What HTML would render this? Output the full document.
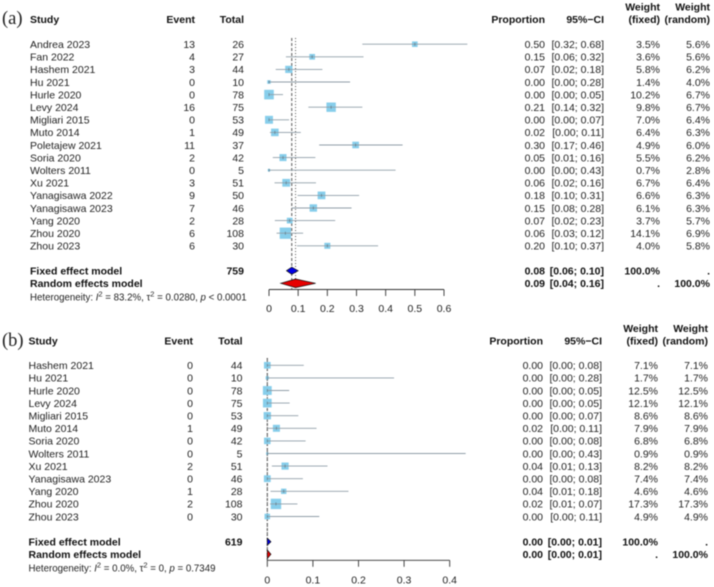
<!DOCTYPE html>
<html>
<head>
<meta charset="utf-8">
<title>Forest plots</title>
<style>
html,body{margin:0;padding:0;background:#fff;}
svg{display:block;font-family:"Liberation Sans",Arial,sans-serif;filter:blur(0.4px);}
text{fill:#1f1f1f;font-size:10.5px;}
.b{font-weight:bold;fill:#111;}
.e{text-anchor:end;}
.m{text-anchor:middle;}
.tag{font-family:"Liberation Serif",serif;font-size:18.5px;fill:#222;}
.h{font-size:9.7px;}
</style>
</head>
<body>
<svg id="chart" xmlns="http://www.w3.org/2000/svg" width="714" height="587" viewBox="0 0 714 587">
  <rect width="714" height="587" fill="#fff"/>
  <text class="tag" x="2" y="24">(a)</text>
  <text class="b" x="30" y="23">Study</text>
  <text class="b e" x="195" y="23">Event</text>
  <text class="b e" x="244" y="23">Total</text>
  <text class="b e" x="545" y="23">Proportion</text>
  <text class="b e" x="604" y="23">95%−CI</text>
  <text class="b e" x="660" y="10.5">Weight</text>
  <text class="b e" x="660" y="23">(fixed)</text>
  <text class="b e" x="710" y="10.5">Weight</text>
  <text class="b e" x="710" y="23">(random)</text>
  <text class="b" x="30" y="274.5">Fixed effect model</text>
  <text class="b e" x="244" y="274.5">759</text>
  <text class="b" x="30" y="287">Random effects model</text>
  <text class="h" x="30" y="300.5">Heterogeneity: <tspan font-style="italic">I</tspan><tspan dy="-4" font-size="7.5">2</tspan><tspan dy="4"> = 83.2%,  τ</tspan><tspan dy="-4" font-size="7.5">2</tspan><tspan dy="4"> = 0.0280, </tspan><tspan font-style="italic">p</tspan> &lt; 0.0001</text>

  <text class="tag" x="2" y="346">(b)</text>
  <text class="b" x="28.5" y="344.5">Study</text>
  <text class="b e" x="193" y="344.5">Event</text>
  <text class="b e" x="242.5" y="344.5">Total</text>
  <text class="b e" x="543" y="344.5">Proportion</text>
  <text class="b e" x="602" y="344.5">95%−CI</text>
  <text class="b e" x="658" y="332">Weight</text>
  <text class="b e" x="658" y="344.5">(fixed)</text>
  <text class="b e" x="708" y="332">Weight</text>
  <text class="b e" x="708" y="344.5">(random)</text>
  <text class="b" x="28.5" y="545.5">Fixed effect model</text>
  <text class="b e" x="242.5" y="545.5">619</text>
  <text class="b" x="28.5" y="558">Random effects model</text>
  <text class="h" x="28.5" y="571.5">Heterogeneity: <tspan font-style="italic">I</tspan><tspan dy="-4" font-size="7.5">2</tspan><tspan dy="4"> = 0.0%,  τ</tspan><tspan dy="-4" font-size="7.5">2</tspan><tspan dy="4"> = 0, </tspan><tspan font-style="italic">p</tspan> = 0.7349</text>
</svg>
<script>
// Panel (a) data
var studiesA = ['Andrea 2023','Fan 2022','Hashem 2021','Hu 2021','Hurle 2020','Levy 2024','Migliari 2015','Muto 2014','Poletajew 2021','Soria 2020','Wolters 2011','Xu 2021','Yanagisawa 2022','Yanagisawa 2023','Yang 2020','Zhou 2020','Zhou 2023'];
var eventsA = [13,4,3,0,0,16,0,1,11,2,0,3,9,7,2,6,6];
var totalsA = [26,27,44,10,78,75,53,49,37,42,5,51,50,46,28,108,30];
var propA = [0.500,0.148,0.068,0,0,0.213,0,0.020,0.297,0.048,0,0.059,0.180,0.152,0.071,0.056,0.200];
var lowerA = [0.320,0.058,0.023,0,0,0.135,0,0.003,0.172,0.013,0,0.019,0.098,0.078,0.020,0.026,0.096];
var upperA = [0.680,0.324,0.183,0.278,0.048,0.320,0.069,0.109,0.458,0.159,0.434,0.161,0.309,0.283,0.227,0.117,0.374];
var weightFixedA = [3.5,3.6,5.8,1.4,10.2,9.8,7.0,6.4,4.9,5.5,0.7,6.7,6.6,6.1,3.7,14.1,4.0];
var weightRandomA = [5.6,5.6,6.2,4.0,6.7,6.7,6.4,6.3,6.0,6.2,2.8,6.4,6.3,6.3,5.7,6.9,5.8];
var fixedSummaryA = [0.078,0.060,0.100];
var randomSummaryA = [0.091,0.040,0.160];
var ticksA = ['0','0.1','0.2','0.3','0.4','0.5','0.6'];

// Panel (b) data
var studiesB = ['Hashem 2021','Hu 2021','Hurle 2020','Levy 2024','Migliari 2015','Muto 2014','Soria 2020','Wolters 2011','Xu 2021','Yanagisawa 2023','Yang 2020','Zhou 2020','Zhou 2023'];
var eventsB = [0,0,0,0,0,1,0,0,2,0,1,2,0];
var totalsB = [44,10,78,75,53,49,42,5,51,46,28,108,30];
var propB = [0,0,0,0,0,0.020,0,0,0.039,0,0.036,0.019,0];
var lowerB = [0,0,0,0,0,0.001,0,0,0.010,0,0.007,0.006,0];
var upperB = [0.080,0.278,0.048,0.049,0.068,0.108,0.084,0.435,0.132,0.078,0.178,0.066,0.114];
var weightFixedB = [7.1,1.7,12.5,12.1,8.6,7.9,6.8,0.9,8.2,7.4,4.6,17.3,4.9];
var weightRandomB = [7.1,1.7,12.5,12.1,8.6,7.9,6.8,0.9,8.2,7.4,4.6,17.3,4.9];
var fixedSummaryB = [0,0,0.008];
var randomSummaryB = [0,0,0.008];
var ticksB = ['0','0.1','0.2','0.3','0.4'];

var svg = document.getElementById('chart');
var NS = 'http://www.w3.org/2000/svg';

function make(tag, attrs, content) {
  var el = document.createElementNS(NS, tag);
  for (var k in attrs) el.setAttribute(k, attrs[k]);
  if (content !== undefined) el.textContent = content;
  svg.appendChild(el);
  return el;
}

function ci(lo, hi) {
  return '[' + lo.toFixed(2) + '; ' + hi.toFixed(2) + ']';
}

function drawDiamond(s, xs, y, fill, halfH, name) {
  var pts = [xs(s[1]) + ',' + y, xs(s[0]) + ',' + (y - halfH), xs(s[2]) + ',' + y, xs(s[0]) + ',' + (y + halfH)].join(' ');
  var el = make('polygon', {points: pts, fill: fill, stroke: '#111', 'stroke-width': 0.7});
  
  
}

function drawPanel(p) {
  var xs = function (v) { return p.x0 + v * p.unit; };
  var rowY = function (i) { return p.y0 + i * 12.6; };
  var el, i;

  // reference lines
  el = make('line', {x1: xs(p.fixed[0]), x2: xs(p.fixed[0]), y1: p.refTop, y2: p.axisY, stroke: '#555', 'stroke-width': 1, 'stroke-dasharray': '3 2'});
  
  
  el = make('line', {x1: xs(p.random[0]), x2: xs(p.random[0]), y1: p.refTop, y2: p.axisY, stroke: '#555', 'stroke-width': 1, 'stroke-dasharray': '1 2'});
  
  

  for (i = 0; i < p.studies.length; i++) {
    var y = rowY(i), t = y + 3.8;
    el = make('text', {x: p.textX, y: t}, p.studies[i]);
    
    
    el = make('text', {x: p.eventX, y: t, 'class': 'e'}, String(p.events[i]));
    
    
    el = make('text', {x: p.totalX, y: t, 'class': 'e'}, String(p.totals[i]));
    
    
    el = make('text', {x: p.propX, y: t, 'class': 'e'}, p.prop[i].toFixed(2));
    
    
    el = make('text', {x: p.ciX, y: t, 'class': 'e'}, ci(p.lower[i], p.upper[i]));
    
    
    el = make('text', {x: p.wfX, y: t, 'class': 'e'}, p.wf[i].toFixed(1) + '%');
    
    
    el = make('text', {x: p.wrX, y: t, 'class': 'e'}, p.wr[i].toFixed(1) + '%');
    
    

    var side = p.sizeK * Math.sqrt(p.wf[i]);
    el = make('rect', {x: xs(p.prop[i]) - side / 2, y: y - side / 2, width: side, height: side, fill: '#87ceeb'});
    
    
    el = make('line', {x1: xs(p.lower[i]), x2: xs(p.upper[i]), y1: y, y2: y, stroke: '#8f9ea8', 'stroke-width': 0.9});
    
    
    el = make('line', {x1: xs(p.prop[i]), x2: xs(p.prop[i]), y1: y - 1.5, y2: y + 1.5, stroke: '#5d7886', 'stroke-width': 0.7});
    
    
  }

  // summary rows
  var rows = [[p.fixed, p.fixedY, '100.0%', '.'], [p.random, p.fixedY + 12.6, '.', '100.0%']];
  rows.forEach(function (r) {
    var t = r[1] + 3.8;
    var e;
    e = make('text', {x: p.propX, y: t, 'class': 'b e'}, r[0][0].toFixed(2));
    
    
    e = make('text', {x: p.ciX, y: t, 'class': 'b e'}, ci(r[0][1], r[0][2]));
    
    
    e = make('text', {x: p.wfX, y: t, 'class': 'b e'}, r[2]);
    
    
    e = make('text', {x: p.wrX, y: t, 'class': 'b e'}, r[3]);
    
    
  });
  drawDiamond(p.fixed, xs, p.fixedY, '#0000e6', 3.6, 'fixed-effect-diamond');
  drawDiamond(p.random, xs, p.fixedY + 12.6, '#e60000', 4.3, 'random-effect-diamond');

  // axis
  var last = Number(p.ticks[p.ticks.length - 1]);
  el = make('line', {x1: xs(0), x2: xs(last), y1: p.axisY, y2: p.axisY, stroke: '#333', 'stroke-width': 0.9});
  
  
  p.ticks.forEach(function (lab) {
    var v = Number(lab);
    var e = make('line', {x1: xs(v), x2: xs(v), y1: p.axisY, y2: p.axisY + 6.5, stroke: '#333', 'stroke-width': 0.9});
    
    
    e = make('text', {x: xs(v), y: p.tickY, 'class': 'm'}, lab);
    
    
  });
}

drawPanel({
  studies: studiesA, events: eventsA, totals: totalsA, prop: propA, lower: lowerA, upper: upperA,
  wf: weightFixedA, wr: weightRandomA, fixed: fixedSummaryA, random: randomSummaryA, ticks: ticksA,
  x0: 269, unit: 291.67, y0: 44.2, fixedY: 270.7, axisY: 289.5, tickY: 312, refTop: 38, sizeK: 3,
  textX: 30, eventX: 195, totalX: 244, propX: 545, ciX: 604, wfX: 660, wrX: 710
});
drawPanel({
  studies: studiesB, events: eventsB, totals: totalsB, prop: propB, lower: lowerB, upper: upperB,
  wf: weightFixedB, wr: weightRandomB, fixed: fixedSummaryB, random: randomSummaryB, ticks: ticksB,
  x0: 267.3, unit: 456, y0: 365.3, fixedY: 541.7, axisY: 560.3, tickY: 583.5, refTop: 358, sizeK: 2.5,
  textX: 28.5, eventX: 193, totalX: 242.5, propX: 543, ciX: 602, wfX: 658, wrX: 708
});
</script>
</body>
</html>
